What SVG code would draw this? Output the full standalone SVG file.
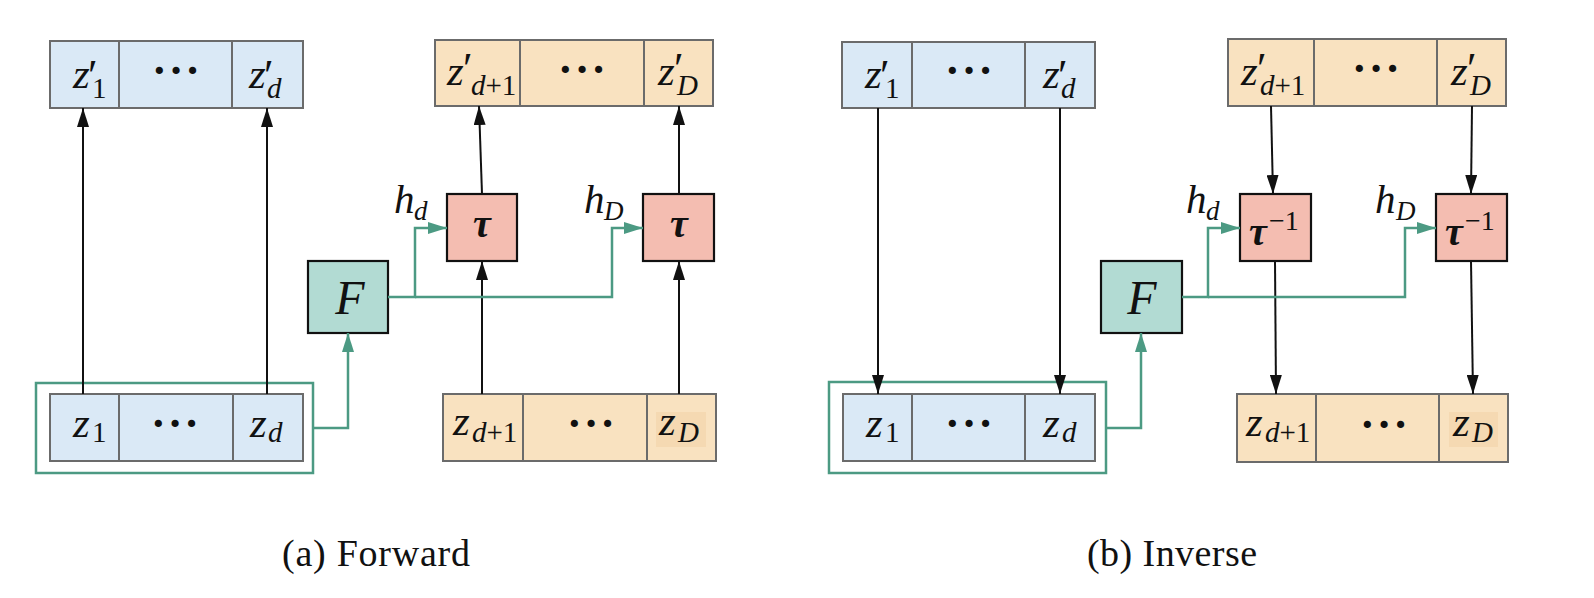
<svg xmlns="http://www.w3.org/2000/svg" width="1594" height="598" viewBox="0 0 1594 598">
<style>
.cb{fill:#dae9f6;stroke:#6b6b6b;stroke-width:2}
.co{fill:#f9e2c0;stroke:#6b6b6b;stroke-width:2}
.hl{fill:#f5d9b2;stroke:none}
.tau{fill:#f4bdb1;stroke:#111;stroke-width:2.2}
.fb{fill:#b2dbd3;stroke:#111;stroke-width:2.2}
.grp{fill:none;stroke:#4c9a83;stroke-width:2.5}
.m{font-family:'Liberation Serif','Times New Roman','DejaVu Serif',serif;font-style:italic;fill:#111}
.r{font-family:'Liberation Serif','Times New Roman','DejaVu Serif',serif;font-style:normal;fill:#111}
.z{font-size:43px}
.s{font-size:29px}
.p{font-size:44px;font-style:normal}
.dots{font-family:'Liberation Serif','Times New Roman',serif;font-size:44px;font-weight:bold;letter-spacing:2px;fill:#111;text-anchor:middle}
.h{font-size:41px}
.hs{font-size:27px}
.blk{fill:none;stroke:#111;stroke-width:2}
.grn{fill:none;stroke:#4c9a83;stroke-width:2.5}
.cap{font-family:'Liberation Serif','Times New Roman','DejaVu Serif',serif;font-size:38px;fill:#111}
</style>
<defs>
<marker id="ab" markerUnits="userSpaceOnUse" markerWidth="19" markerHeight="12" refX="19" refY="6" orient="auto"><path d="M0,0 L19,6 L0,12 z" fill="#111"/></marker>
<marker id="ag" markerUnits="userSpaceOnUse" markerWidth="19" markerHeight="12" refX="19" refY="6" orient="auto"><path d="M0,0 L19,6 L0,12 z" fill="#4c9a83"/></marker>
</defs>

<!-- ========== (a) Forward ========== -->
<g id="fwd-zprime-1d">
<rect class="cb" x="50" y="41" width="69" height="67"/>
<rect class="cb" x="119" y="41" width="113" height="67"/>
<rect class="cb" x="232" y="41" width="71" height="67"/>
<text class="m z" x="73" y="88">z<tspan class="p" x="88" y="90">′</tspan><tspan class="r s" x="92" y="98">1</tspan></text>
<text class="dots" x="177" y="85">···</text>
<text class="m z" x="249" y="88">z<tspan class="p" x="264" y="90">′</tspan><tspan class="s" x="267" y="98">d</tspan></text>
</g>

<g id="fwd-zprime-dD">
<rect class="co" x="435" y="40" width="85" height="66"/>
<rect class="co" x="520" y="40" width="124" height="66"/>
<rect class="co" x="644" y="40" width="69" height="66"/>
<text class="m z" x="447" y="85">z<tspan class="p" x="463" y="83">′</tspan><tspan class="s" x="471" y="95">d<tspan class="r">+1</tspan></tspan></text>
<text class="dots" x="583" y="84">···</text>
<text class="m z" x="658" y="85">z<tspan class="p" x="674" y="83">′</tspan><tspan class="s" x="677" y="95">D</tspan></text>
</g>

<g id="fwd-group">
<rect class="grp" x="36" y="383" width="277" height="90"/>
</g>

<g id="fwd-z-1d">
<rect class="cb" x="50" y="394" width="69" height="67"/>
<rect class="cb" x="119" y="394" width="114" height="67"/>
<rect class="cb" x="233" y="394" width="70" height="67"/>
<text class="m z" x="73" y="437">z<tspan class="r s" x="92" y="442">1</tspan></text>
<text class="dots" x="176" y="438">···</text>
<text class="m z" x="250" y="437">z<tspan class="s" x="268" y="442">d</tspan></text>
</g>

<g id="fwd-z-dD">
<rect class="co" x="443" y="394" width="80" height="67"/>
<rect class="co" x="523" y="394" width="124" height="67"/>
<rect class="co" x="647" y="394" width="69" height="67"/>
<rect class="hl" x="656" y="412" width="50" height="35"/>
<text class="m z" x="453" y="435">z<tspan class="s" x="472" y="442">d<tspan class="r">+1</tspan></tspan></text>
<text class="dots" x="592" y="438">···</text>
<text class="m z" x="659" y="435">z<tspan class="s" x="678" y="442">D</tspan></text>
</g>

<g id="fwd-F">
<rect class="fb" x="308" y="261" width="80" height="72"/>
<text class="m" x="350" y="314" font-size="48" text-anchor="middle">F</text>
</g>

<g id="fwd-tau1">
<rect class="tau" x="447" y="194" width="70" height="67"/>
<text class="m" x="482" y="237" font-size="40" font-weight="bold" text-anchor="middle">τ</text>
</g>

<g id="fwd-tau2">
<rect class="tau" x="643" y="194" width="71" height="67"/>
<text class="m" x="679" y="237" font-size="40" font-weight="bold" text-anchor="middle">τ</text>
</g>

<g id="fwd-labels">
<text class="m h" x="394" y="213">h<tspan class="hs" x="414" y="220">d</tspan></text>
<text class="m h" x="584" y="213">h<tspan class="hs" x="604" y="220">D</tspan></text>
</g>

<!-- ========== (b) Inverse ========== -->
<g id="inv-zprime-1d">
<rect class="cb" x="842" y="42" width="70" height="66"/>
<rect class="cb" x="912" y="42" width="113" height="66"/>
<rect class="cb" x="1025" y="42" width="70" height="66"/>
<text class="m z" x="865" y="88">z<tspan class="p" x="880" y="90">′</tspan><tspan class="r s" x="885" y="98">1</tspan></text>
<text class="dots" x="970" y="85">···</text>
<text class="m z" x="1043" y="88">z<tspan class="p" x="1058" y="90">′</tspan><tspan class="s" x="1061" y="98">d</tspan></text>
</g>

<g id="inv-zprime-dD">
<rect class="co" x="1228" y="39" width="86" height="67"/>
<rect class="co" x="1314" y="39" width="123" height="67"/>
<rect class="co" x="1437" y="39" width="69" height="67"/>
<text class="m z" x="1241" y="85">z<tspan class="p" x="1257" y="83">′</tspan><tspan class="s" x="1260" y="95">d<tspan class="r">+1</tspan></tspan></text>
<text class="dots" x="1377" y="83">···</text>
<text class="m z" x="1451" y="85">z<tspan class="p" x="1467" y="83">′</tspan><tspan class="s" x="1470" y="95">D</tspan></text>
</g>

<g id="inv-group">
<rect class="grp" x="829" y="382" width="277" height="91"/>
</g>

<g id="inv-z-1d">
<rect class="cb" x="843" y="394" width="69" height="67"/>
<rect class="cb" x="912" y="394" width="113" height="67"/>
<rect class="cb" x="1025" y="394" width="70" height="67"/>
<text class="m z" x="866" y="437">z<tspan class="r s" x="885" y="442">1</tspan></text>
<text class="dots" x="970" y="438">···</text>
<text class="m z" x="1043" y="437">z<tspan class="s" x="1062" y="442">d</tspan></text>
</g>

<g id="inv-z-dD">
<rect class="co" x="1237" y="394" width="79" height="68"/>
<rect class="co" x="1316" y="394" width="123" height="68"/>
<rect class="co" x="1439" y="394" width="69" height="68"/>
<rect class="hl" x="1449" y="412" width="49" height="35"/>
<text class="m z" x="1246" y="436">z<tspan class="s" x="1265" y="442">d<tspan class="r">+1</tspan></tspan></text>
<text class="dots" x="1385" y="439">···</text>
<text class="m z" x="1453" y="436">z<tspan class="s" x="1472" y="442">D</tspan></text>
</g>

<g id="inv-F">
<rect class="fb" x="1101" y="261" width="81" height="72"/>
<text class="m" x="1142" y="314" font-size="48" text-anchor="middle">F</text>
</g>

<g id="inv-tau1">
<rect class="tau" x="1240" y="194" width="71" height="67"/>
<text class="m" x="1249" y="245" font-size="40" font-weight="bold">τ<tspan class="r" font-weight="normal" font-size="28" x="1269" y="230">−1</tspan></text>
</g>

<g id="inv-tau2">
<rect class="tau" x="1436" y="194" width="71" height="67"/>
<text class="m" x="1445" y="245" font-size="40" font-weight="bold">τ<tspan class="r" font-weight="normal" font-size="28" x="1465" y="230">−1</tspan></text>
</g>

<g id="inv-labels">
<text class="m h" x="1186" y="213">h<tspan class="hs" x="1206" y="220">d</tspan></text>
<text class="m h" x="1375" y="213">h<tspan class="hs" x="1396" y="220">D</tspan></text>
</g>

<!-- ========== connectors ========== -->
<g id="connectors">
<line class="blk" x1="83" y1="394" x2="83" y2="108" marker-end="url(#ab)"/>
<line class="blk" x1="267" y1="394" x2="267" y2="108" marker-end="url(#ab)"/>
<line class="blk" x1="482" y1="394" x2="482" y2="261" marker-end="url(#ab)"/>
<line class="blk" x1="482" y1="194" x2="479" y2="106" marker-end="url(#ab)"/>
<line class="blk" x1="679" y1="394" x2="679" y2="261" marker-end="url(#ab)"/>
<line class="blk" x1="679" y1="194" x2="679" y2="106" marker-end="url(#ab)"/>
<polyline class="grn" points="313,428 348,428 348,333" marker-end="url(#ag)"/>
<polyline class="grn" points="388,297 415,297 415,228 447,228" marker-end="url(#ag)"/>
<polyline class="grn" points="415,297 612,297 612,228 643,228" marker-end="url(#ag)"/>
<line class="blk" x1="878" y1="108" x2="878" y2="394" marker-end="url(#ab)"/>
<line class="blk" x1="1060" y1="108" x2="1060" y2="394" marker-end="url(#ab)"/>
<line class="blk" x1="1271" y1="106" x2="1273" y2="194" marker-end="url(#ab)"/>
<line class="blk" x1="1275" y1="261" x2="1276" y2="394" marker-end="url(#ab)"/>
<line class="blk" x1="1472" y1="106" x2="1471" y2="194" marker-end="url(#ab)"/>
<line class="blk" x1="1471" y1="261" x2="1473" y2="394" marker-end="url(#ab)"/>
<polyline class="grn" points="1106,428 1141,428 1141,333" marker-end="url(#ag)"/>
<polyline class="grn" points="1182,297 1208,297 1208,228 1240,228" marker-end="url(#ag)"/>
<polyline class="grn" points="1208,297 1405,297 1405,228 1436,228" marker-end="url(#ag)"/>
</g>

<g id="captions">
<text class="cap" x="282" y="566" textLength="188">(a) Forward</text>
<text class="cap" x="1087" y="566" textLength="170">(b) Inverse</text>
</g>
</svg>
